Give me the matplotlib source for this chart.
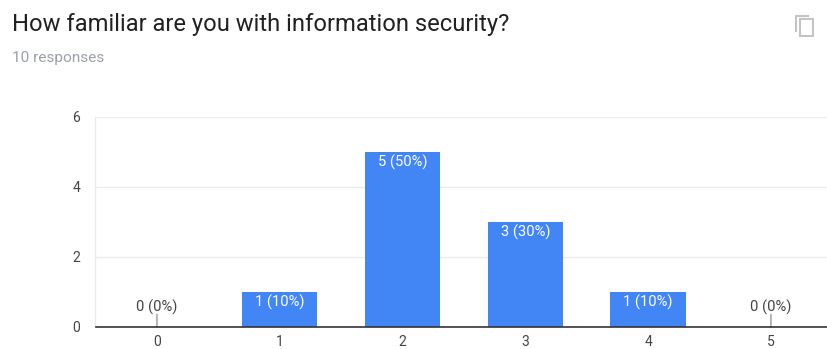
import matplotlib
matplotlib.use("Agg")
import matplotlib.pyplot as plt
from matplotlib.patches import Rectangle
from matplotlib.lines import Line2D

categories = ["0", "1", "2", "3", "4", "5"]
counts = [0, 1, 5, 3, 1, 0]
shares = [0, 10, 50, 30, 10, 0]
y_ticks = [0, 2, 4, 6]
title = "How familiar are you with information security?"
subtitle = "10 responses"

W, H = 828, 349
plt.rcParams["font.family"] = ["Roboto", "DejaVu Sans"]
fig = plt.figure(figsize=(W / 100, H / 100), dpi=100, facecolor="white")

left, right, top, bottom = 95.5, 828, 116.5, 327
ax = fig.add_axes([left / W, 1 - bottom / H, (right - left) / W, (bottom - top) / H])
step = 122.8
ax.set_xlim(-0.5, (right - left) / step - 0.5)
ax.set_ylim(0, 6)
ax.set_facecolor("white")

positions = list(range(len(categories)))
ax.bar(positions, counts, width=0.615, color="#4285f4", zorder=2)

# Category and value axes
ax.set_xticks(positions, categories)
ax.set_yticks(y_ticks, [str(v) for v in y_ticks])
ax.tick_params(axis="both", length=0, labelsize=10, labelcolor="#444444")
ax.tick_params(axis="x", pad=5.8)
ax.tick_params(axis="y", pad=11)
ax.grid(axis="y", color="#ebebeb", linewidth=1, zorder=0)
ax.set_axisbelow(True)
for side in ("top", "right"):
    ax.spines[side].set_visible(False)
ax.spines["left"].set_color("#ebebeb")
ax.spines["left"].set_linewidth(1)
ax.spines["bottom"].set_color("#333333")
ax.spines["bottom"].set_linewidth(1.2)
ax.spines["bottom"].set_zorder(4)

# Value labels: inside the bar, or above a short stem for empty categories
for x, n, pct in zip(positions, counts, shares):
    label = f"{n} ({pct}%)"
    if n > 0:
        ax.annotate(label, (x, n), xytext=(0, -7.4), textcoords="offset points",
                    ha="center", va="center", fontsize=10.6, color="white", zorder=3)
    else:
        ax.annotate(label, (x, n), xytext=(0, 14), textcoords="offset points",
                    ha="center", va="center", fontsize=10.6, color="#444444", zorder=3,
                    arrowprops=dict(arrowstyle="-", color="#aaaaaa", linewidth=1.2,
                                    patchA=None, shrinkA=5, shrinkB=0))

# Header text
fig.text(12 / W, 1 - 25 / H, title, fontsize=17.1, color="#212121", ha="left", va="center")
fig.text(12.5 / W, 1 - 58 / H, subtitle, fontsize=11.1, color="#9a9fa8", ha="left", va="center")

# Copy icon in the top-right corner
icon = "#c4c4c4"
fig.add_artist(Line2D([796.5 / W, 796.5 / W, 808 / W],
                      [1 - 31 / H, 1 - 15.5 / H, 1 - 15.5 / H],
                      color=icon, linewidth=1.5, transform=fig.transFigure))
fig.add_artist(Rectangle((800.5 / W, 1 - 36 / H), 12.5 / W, 16.5 / H, fill=False,
                         edgecolor=icon, linewidth=1.5, transform=fig.transFigure))

fig.savefig("out.png", dpi=100, facecolor="white")
